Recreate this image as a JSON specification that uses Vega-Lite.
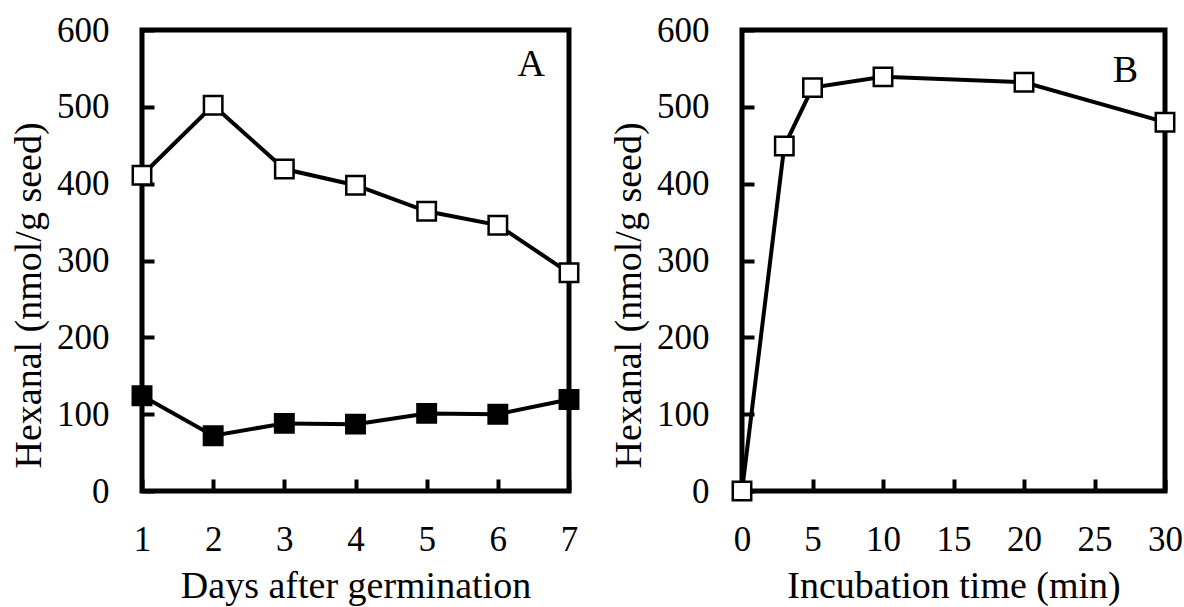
{
  "$schema": "https://vega.github.io/schema/vega-lite/v6.json",
  "padding": {"left": 8, "top": 10, "right": 5, "bottom": 0},
  "background": "white",
  "datasets": {
    "a": [
      {"day": 1, "hexanal": 411, "series": "open"},
      {"day": 2, "hexanal": 502, "series": "open"},
      {"day": 3, "hexanal": 419, "series": "open"},
      {"day": 4, "hexanal": 398, "series": "open"},
      {"day": 5, "hexanal": 364, "series": "open"},
      {"day": 6, "hexanal": 346, "series": "open"},
      {"day": 7, "hexanal": 284, "series": "open"},
      {"day": 1, "hexanal": 124, "series": "filled"},
      {"day": 2, "hexanal": 72, "series": "filled"},
      {"day": 3, "hexanal": 88, "series": "filled"},
      {"day": 4, "hexanal": 87, "series": "filled"},
      {"day": 5, "hexanal": 101, "series": "filled"},
      {"day": 6, "hexanal": 100, "series": "filled"},
      {"day": 7, "hexanal": 119, "series": "filled"}
    ],
    "b": [
      {"time": 0, "hexanal": 0, "series": "open"},
      {"time": 3, "hexanal": 449, "series": "open"},
      {"time": 5, "hexanal": 525, "series": "open"},
      {"time": 10, "hexanal": 539, "series": "open"},
      {"time": 20, "hexanal": 532, "series": "open"},
      {"time": 30, "hexanal": 480, "series": "open"}
    ],
    "labA": [{"x": 6.47, "y": 554, "label": "A"}],
    "labB": [{"x": 27.2, "y": 547, "label": "B"}]
  },
  "config": {
    "view": {"stroke": "black", "strokeWidth": 5},
    "font": "Liberation Serif",
    "axis": {
      "domain": false,
      "grid": false,
      "zindex": 1,
      "ticks": true,
      "offset": -12,
      "tickColor": "black",
      "tickWidth": 4,
      "tickSize": 12,
      "labelFont": "Liberation Serif",
      "labelFontSize": 35,
      "labelColor": "black",
      "labelFlush": false,
      "labelOverlap": false,
      "format": "d",
      "titleFont": "Liberation Serif",
      "titleFontSize": 38,
      "titleFontWeight": "normal",
      "titleColor": "black"
    },
    "axisX": {"labelPadding": 31, "titlePadding": 10},
    "axisY": {"labelPadding": 33, "titlePadding": 8, "titleY": 265}
  },
  "spacing": 22,
  "hconcat": [
    {
      "width": 427,
      "height": 461,
      "layer": [
        {
          "data": {"name": "a"},
          "mark": {"type": "line", "color": "black", "strokeWidth": 4},
          "encoding": {
            "x": {"field": "day", "type": "quantitative", "scale": {"domain": [1, 7], "nice": false, "zero": false}, "axis": {"values": [1, 2, 3, 4, 5, 6, 7], "title": "Days after germination"}},
            "y": {"field": "hexanal", "type": "quantitative", "scale": {"domain": [0, 600], "nice": false}, "axis": {"values": [0, 100, 200, 300, 400, 500, 600], "title": "Hexanal (nmol/g seed)"}},
            "detail": {"field": "series"}
          }
        },
        {
          "data": {"name": "a"},
          "mark": {"type": "point", "shape": "square", "size": 340, "stroke": "black", "strokeWidth": 2.5, "opacity": 1, "filled": true},
          "encoding": {
            "x": {"field": "day", "type": "quantitative"},
            "y": {"field": "hexanal", "type": "quantitative"},
            "fill": {"field": "series", "type": "nominal", "scale": {"domain": ["open", "filled"], "range": ["white", "black"]}, "legend": null}
          }
        },
        {
          "data": {"name": "labA"},
          "mark": {"type": "text", "fontSize": 38, "font": "Liberation Serif", "color": "black", "align": "center", "baseline": "middle"},
          "encoding": {
            "x": {"field": "x", "type": "quantitative"},
            "y": {"field": "y", "type": "quantitative"},
            "text": {"field": "label"}
          }
        }
      ]
    },
    {
      "width": 423,
      "height": 461,
      "layer": [
        {
          "data": {"name": "b"},
          "mark": {"type": "line", "color": "black", "strokeWidth": 4},
          "encoding": {
            "x": {"field": "time", "type": "quantitative", "scale": {"domain": [0, 30], "nice": false, "zero": false}, "axis": {"values": [0, 5, 10, 15, 20, 25, 30], "title": "Incubation time (min)"}},
            "y": {"field": "hexanal", "type": "quantitative", "scale": {"domain": [0, 600], "nice": false}, "axis": {"values": [0, 100, 200, 300, 400, 500, 600], "title": "Hexanal (nmol/g seed)"}}
          }
        },
        {
          "data": {"name": "b"},
          "mark": {"type": "point", "shape": "square", "size": 340, "stroke": "black", "strokeWidth": 2.5, "opacity": 1, "filled": true, "fill": "white"},
          "encoding": {
            "x": {"field": "time", "type": "quantitative"},
            "y": {"field": "hexanal", "type": "quantitative"}
          }
        },
        {
          "data": {"name": "labB"},
          "mark": {"type": "text", "fontSize": 38, "font": "Liberation Serif", "color": "black", "align": "center", "baseline": "middle"},
          "encoding": {
            "x": {"field": "x", "type": "quantitative"},
            "y": {"field": "y", "type": "quantitative"},
            "text": {"field": "label"}
          }
        }
      ]
    }
  ]
}
